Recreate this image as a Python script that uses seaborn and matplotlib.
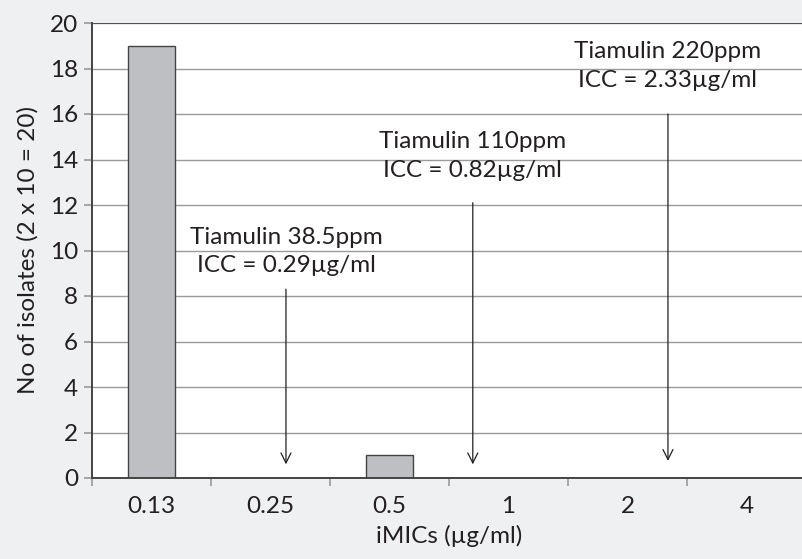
import matplotlib
matplotlib.use("Agg")
import matplotlib.pyplot as plt
import seaborn as sns
import pandas as pd
import numpy as np

categories = ["0.13", "0.25", "0.5", "1", "2", "4"]
counts = [19, 0, 1, 0, 0, 0]
ann_labels = ["Tiamulin 38.5ppm\nICC = 0.29µg/ml",
              "Tiamulin 110ppm\nICC = 0.82µg/ml",
              "Tiamulin 220ppm\nICC = 2.33µg/ml"]
ann_x = [1.13, 2.70, 4.34]
ann_top = [8.3, 12.1, 16.0]
ann_bottom = [0.6, 0.6, 0.75]
ann_text_y = [9.95, 14.15, 18.1]
yticks = list(range(0, 21, 2))

sns.set_theme(style="white")
plt.rcParams['font.family'] = ['Lato', 'DejaVu Sans']

FS = 17.5
bg = "#eff0f2"
fig = plt.figure(figsize=(8.02, 5.59), dpi=100, facecolor=bg)
ax = fig.add_axes([92/802, (559-478)/559, (806-92)/802, (478-23)/559])
ax.set_facecolor("white")

df = pd.DataFrame({"cat": categories, "n": counts})
sns.barplot(data=df, x="cat", y="n", order=categories, color="#bebfc3",
            saturation=1, width=0.4, edgecolor="#444444", linewidth=1.0, ax=ax)

ax.set_xlim(-0.5, 5.5)
ax.set_ylim(0, 20)
ax.set_yticks(yticks)
ax.set_yticklabels([str(t) for t in yticks], fontsize=FS, color="#231f20")
for t in yticks[1:]:
    ax.axhline(t, color="#9a9a9a", lw=1.0, zorder=0)
ax.axhline(20, color="#444444", lw=1.2, zorder=0)

ax.set_xticks(range(len(categories)))
ax.set_xticklabels(categories, fontsize=FS, color="#231f20")
ax.tick_params(axis="x", length=0, pad=13)
ax.set_xticks(np.arange(-0.5, 5.6, 1.0), minor=True)
ax.tick_params(axis="x", which="minor", length=6, color="#999999", width=1.2, bottom=True)
ax.tick_params(axis="y", length=6, color="#999999", width=1.2, left=True, pad=4)

for s in ["top", "right"]:
    ax.spines[s].set_visible(False)
for s in ["left", "bottom"]:
    ax.spines[s].set_color("#444444")
    ax.spines[s].set_linewidth(1.4)

ax.set_xlabel("iMICs (µg/ml)", fontsize=FS, color="#231f20", labelpad=6)
ax.set_ylabel("No of isolates (2 x 10 = 20)", fontsize=FS, color="#231f20", labelpad=8)

for lab, x, top, bot, ty in zip(ann_labels, ann_x, ann_top, ann_bottom, ann_text_y):
    ax.annotate("", xy=(x, bot), xytext=(x, top),
                arrowprops=dict(arrowstyle="->", color="#231f20", lw=0.9,
                                mutation_scale=18, shrinkA=0, shrinkB=0))
    ax.text(x, ty, lab, ha="center", va="center", fontsize=FS,
            color="#231f20", linespacing=1.45)

fig.savefig("out.png", dpi=100, facecolor=bg)
